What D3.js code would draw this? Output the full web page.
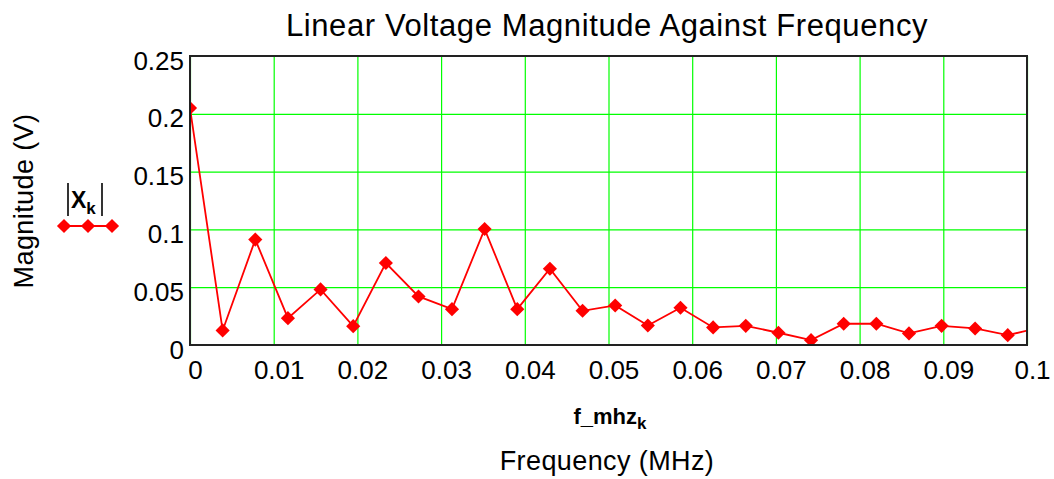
<!DOCTYPE html>
<html>
<head>
<meta charset="utf-8">
<script src="https://cdn.jsdelivr.net/npm/d3@7"></script>
<style>
  body { margin: 0; background: #fff; }
  svg { display: block; font-family: "Liberation Sans", Arial, sans-serif; }
</style>
</head>
<body>
<svg id="chart" width="1054" height="479"></svg>
<script>
"use strict"

// frequency of each DFT bin, MHz (f_mhz_k)
const freqMHz = [0, 0.0039, 0.0078, 0.0117, 0.0156, 0.0195, 0.0234, 0.0273, 0.0313,
  0.0352, 0.0391, 0.0430, 0.0469, 0.0508, 0.0547, 0.0586, 0.0625, 0.0664, 0.0703,
  0.0742, 0.0781, 0.0820, 0.0859, 0.0898, 0.0938, 0.0977, 0.1016]

// |X_k|, volts
const magnitude = [0.205, 0.0126, 0.0912, 0.0232, 0.0481, 0.0163, 0.0709, 0.042, 0.031,
  0.1003, 0.031, 0.066, 0.0296, 0.0342, 0.0169, 0.0322, 0.0152, 0.0166, 0.0106,
  0.0042, 0.0184, 0.0184, 0.010, 0.0166, 0.0143, 0.0085, 0.0151]

const xTicks = [0, 0.01, 0.02, 0.03, 0.04, 0.05, 0.06, 0.07, 0.08, 0.09, 0.1]
const yTicks = [0, 0.05, 0.1, 0.15, 0.2, 0.25]

const plotLeft = 190, plotRight = 1027, plotTop = 56, plotBottom = 345
const plotW = plotRight - plotLeft
const plotH = plotBottom - plotTop

const x = d3.scaleLinear().domain([0, 0.1]).range([plotLeft, plotRight])
const y = d3.scaleLinear().domain([0, 0.25]).range([plotBottom, plotTop])

const svg = d3.select("#chart")

svg.append("defs").append("clipPath").attr("id", "plotclip")
  .append("rect").attr("x", plotLeft).attr("y", plotTop).attr("width", plotW).attr("height", plotH)

// grid
const gx = svg.append("g")
  .attr("transform", `translate(0,${plotBottom})`)
  .call(d3.axisBottom(x).tickValues(xTicks).tickSize(-plotH).tickFormat(""))
gx.select(".domain").remove()
gx.selectAll("line").attr("stroke", "#00ff00").attr("stroke-width", 1.2)

const gy = svg.append("g")
  .attr("transform", `translate(${plotLeft},0)`)
  .call(d3.axisLeft(y).tickValues(yTicks).tickSize(-plotW).tickFormat(""))
gy.select(".domain").remove()
gy.selectAll("line").attr("stroke", "#00ff00").attr("stroke-width", 1.2)

// tick labels
const fmt = d3.format("~g")
const ax = svg.append("g")
  .attr("transform", `translate(0,${plotBottom})`)
  .call(d3.axisBottom(x).tickValues(xTicks).tickSize(0).tickPadding(16).tickFormat(fmt))
ax.select(".domain").remove()
ax.selectAll("text").attr("font-size", 26).attr("fill", "#000")
  .attr("font-family", "Liberation Sans, Arial, sans-serif").attr("dx", 5)

const ay = svg.append("g")
  .attr("transform", `translate(${plotLeft},0)`)
  .call(d3.axisLeft(y).tickValues(yTicks).tickSize(0).tickPadding(6).tickFormat(fmt))
ay.select(".domain").remove()
ay.selectAll("text").attr("font-size", 26).attr("fill", "#000")
  .attr("font-family", "Liberation Sans, Arial, sans-serif").attr("dy", "0.5em")

// data
// square turned 45deg: equal-sided diamond like the reference markers
const diamond = d3.symbol().type(d3.symbolSquare).size(100)
const pts = freqMHz.map((f, i) => [f, magnitude[i]])
const plot = svg.append("g").attr("clip-path", "url(#plotclip)")

plot.append("path")
  .datum(pts)
  .attr("fill", "none")
  .attr("stroke", "#ff0000")
  .attr("stroke-width", 1.8)
  .attr("d", d3.line().x(d => x(d[0])).y(d => y(d[1])))

plot.selectAll("path.pt")
  .data(pts)
  .enter().append("path")
    .attr("class", "pt")
    .attr("transform", d => `translate(${x(d[0])},${y(d[1])}) rotate(45)`)
    .attr("d", diamond)
    .attr("fill", "#ff0000")

// frame
svg.append("rect")
  .attr("x", plotLeft).attr("y", plotTop).attr("width", plotW).attr("height", plotH)
  .attr("fill", "none").attr("stroke", "#222").attr("stroke-width", 2)

// titles
svg.append("text")
  .attr("x", 607).attr("y", 36)
  .attr("text-anchor", "middle").attr("font-size", 31).attr("letter-spacing", 0.6)
  .text("Linear Voltage Magnitude Against Frequency")

svg.append("text")
  .attr("transform", "translate(33,201) rotate(-90)")
  .attr("text-anchor", "middle").attr("font-size", 27).attr("letter-spacing", 0.4)
  .text("Magnitude (V)")

svg.append("text")
  .attr("x", 607).attr("y", 470)
  .attr("text-anchor", "middle").attr("font-size", 27).attr("letter-spacing", 0.4)
  .text("Frequency (MHz)")

const xvar = svg.append("text")
  .attr("x", 610).attr("y", 424)
  .attr("text-anchor", "middle").attr("font-size", 22).attr("font-weight", "bold")
xvar.append("tspan").text("f_mhz")
xvar.append("tspan").attr("font-size", 17).attr("dy", 5).text("k")

// legend
const lg = svg.append("g")
lg.selectAll("line.bar")
  .data([68, 102])
  .enter().append("line")
    .attr("class", "bar")
    .attr("x1", d => d).attr("x2", d => d)
    .attr("y1", 183).attr("y2", 216)
    .attr("stroke", "#000").attr("stroke-width", 1.6)
const lt = lg.append("text").attr("x", 71).attr("y", 208)
  .attr("font-size", 23).attr("font-weight", "bold")
lt.append("tspan").text("X")
lt.append("tspan").attr("font-size", 17).attr("dy", 6).text("k")

lg.append("line").attr("x1", 64).attr("x2", 112).attr("y1", 226).attr("y2", 226)
  .attr("stroke", "#ff0000").attr("stroke-width", 1.8)
lg.selectAll("path")
  .data([64, 88, 112])
  .enter().append("path")
    .attr("transform", d => `translate(${d},226) rotate(45)`)
    .attr("d", diamond)
    .attr("fill", "#ff0000")
</script>
</body>
</html>
